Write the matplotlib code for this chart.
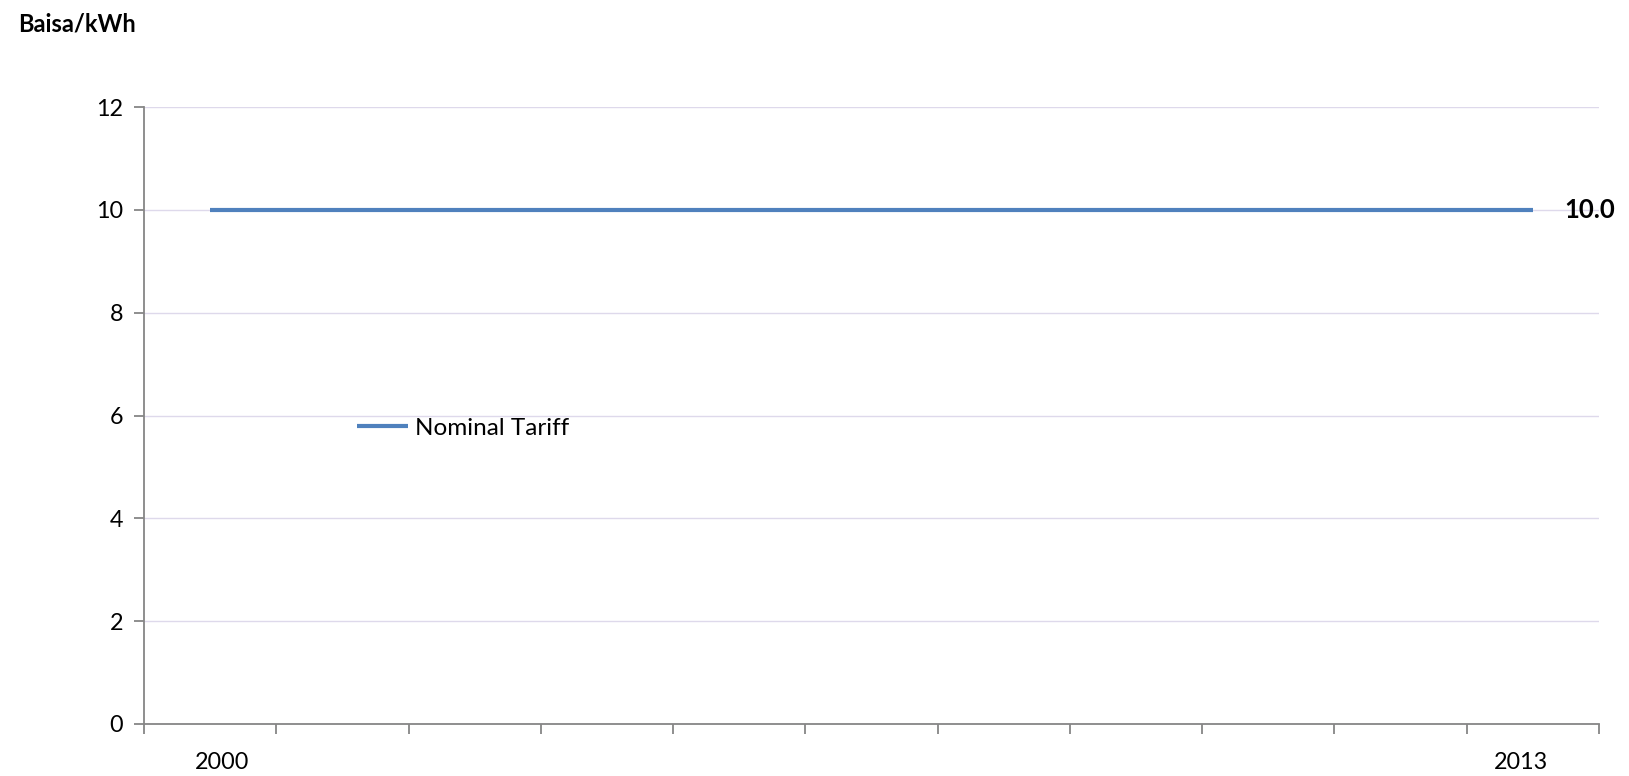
import matplotlib
matplotlib.use("Agg")
import matplotlib.pyplot as plt
from matplotlib.ticker import FixedLocator, NullFormatter
import matplotlib.transforms as mtransforms

plt.rcParams['font.family'] = ['Lato', 'DejaVu Sans']

# Data
categories = ["2000", "", "", "", "", "", "", "", "", "", "2013"]
nominal_tariff = [10.0, 10.0, 10.0, 10.0, 10.0, 10.0, 10.0, 10.0, 10.0, 10.0, 10.0]
y_ticks = [0, 2, 4, 6, 8, 10, 12]
series_name = "Nominal Tariff"
y_unit = "Baisa/kWh"

W, H = 1629, 776
fig = plt.figure(figsize=(W / 100, H / 100), dpi=100)
ax = fig.add_axes([144 / W, (776 - 724) / H, (1599 - 144) / W, (724 - 107) / H])

x = list(range(len(categories)))
line_color = '#4F81BD'
ax.plot(x, nominal_tariff, color=line_color, lw=3.0, solid_capstyle='butt', label=series_name, zorder=3)

ax.set_xlim(-0.5, len(categories) - 0.5)
ax.set_ylim(0, 12)
ax.set_yticks(y_ticks)
ax.set_yticklabels([str(v) for v in y_ticks])

ax.set_xticks(x)
ax.set_xticklabels(categories)
ax.xaxis.set_minor_locator(FixedLocator([i - 0.5 for i in range(len(categories) + 1)]))
ax.xaxis.set_minor_formatter(NullFormatter())
ax.tick_params(axis='x', which='major', length=0, pad=20, labelsize=16.8)
ax.tick_params(axis='x', which='minor', length=7, width=1.3, color='#868686', direction='out')
ax.tick_params(axis='y', which='major', length=7, width=1.3, color='#868686', pad=8, labelsize=16.8)

# nudge first/last x labels inward as in the reference
labels = ax.get_xticklabels()
shift = 12 / 100 * 72
labels[0].set_transform(labels[0].get_transform() +
                        mtransforms.ScaledTranslation(12 / 100, 0, fig.dpi_scale_trans))
labels[-1].set_transform(labels[-1].get_transform() +
                         mtransforms.ScaledTranslation(-12 / 100, 0, fig.dpi_scale_trans))

grid_color = '#DED9EB'
ax.yaxis.grid(True, color=grid_color, lw=1.0, zorder=0)
ax.set_axisbelow(True)

for s in ['top', 'right']:
    ax.spines[s].set_visible(False)
for s in ['left', 'bottom']:
    ax.spines[s].set_color('#868686')
    ax.spines[s].set_linewidth(1.3)

# data label on last point
ax.annotate(f"{nominal_tariff[-1]:.1f}", xy=(x[-1], nominal_tariff[-1]), xytext=(23, 0),
            textcoords='offset points', ha='left', va='center', fontsize=18.5, fontweight='bold')

# legend
leg = ax.legend(loc='center left', bbox_to_anchor=((357 - 144) / (1599 - 144), (724 - 428) / (724 - 107)),
                frameon=False, fontsize=17.5, handlelength=2.1, handletextpad=0.3,
                borderpad=0, borderaxespad=0)

fig.text(18 / W, 1 - 24 / H, y_unit, ha='left', va='center', fontsize=17, fontweight='bold')

fig.savefig("out.png", dpi=100)
